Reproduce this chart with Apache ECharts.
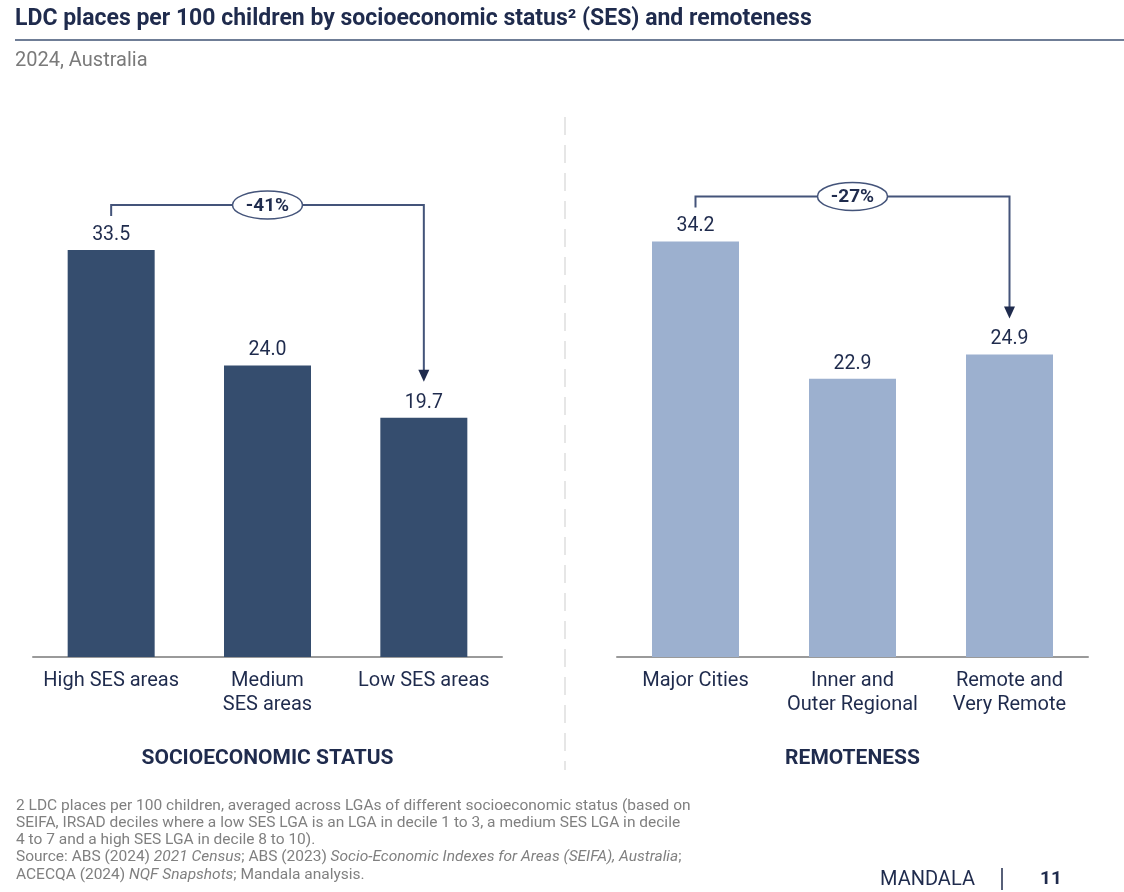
<!DOCTYPE html>
<html>
<head>
<meta charset="utf-8">
<script src="https://cdn.jsdelivr.net/npm/echarts@6/dist/echarts.min.js"></script>
<style>
  html, body { margin: 0; padding: 0; background: #ffffff; }
  #chart { width: 1124px; height: 892px; }
</style>
</head>
<body>
<div id="chart"></div>
<script>
// LDC places per 100 children, 2024
const sesCategories = ['High SES areas', 'Medium\nSES areas', 'Low SES areas'];
const sesValues = [33.5, 24.0, 19.7];
const remoteCategories = ['Major Cities', 'Inner and\nOuter Regional', 'Remote and\nVery Remote'];
const remoteValues = [34.2, 22.9, 24.9];
// change brackets: [from index, to index]
const sesChange = [0, 2];
const remoteChange = [0, 2];

const NAVY = '#1f2b4d';
const DARK_BAR = '#354d6e';
const LIGHT_BAR = '#9cb0cf';
const FONT = 'Roboto, "Noto Sans", sans-serif';

const chart = echarts.init(document.getElementById('chart'), null, { renderer: 'canvas' });

function bracketItem(values, pair) {
  const a = pair[0], b = pair[1];
  const pct = Math.round((values[b] - values[a]) / values[a] * 100);
  return [a, values[a], b, values[b], (pct > 0 ? '+' : '') + pct + '%'];
}

// bracket from one bar to another with an arrow and an oval change label
function renderBracket(params, api) {
  const p0 = api.coord([api.value(0), api.value(1)]);
  const p1 = api.coord([api.value(2), api.value(3)]);
  const label = api.value(4);
  const x0 = p0[0], y0 = p0[1] - 34;
  const x1 = p1[0], yTip = p1[1] - 36;
  const yTop = Math.min(p0[1], p1[1]) - 45;
  const mid = (x0 + x1) / 2;
  const head = 12;
  return {
    type: 'group',
    children: [
      {
        type: 'polyline',
        shape: { points: [[x0, y0], [x0, yTop], [x1, yTop], [x1, yTip - head + 1]] },
        style: { stroke: '#44547a', lineWidth: 2, fill: null }
      },
      {
        type: 'polygon',
        shape: { points: [[x1 - 5.5, yTip - head], [x1 + 5.5, yTip - head], [x1, yTip]] },
        style: { fill: NAVY }
      },
      {
        type: 'ellipse',
        shape: { cx: mid, cy: yTop, rx: 35, ry: 14 },
        style: { fill: '#ffffff', stroke: '#44547a', lineWidth: 1.5 }
      },
      {
        type: 'text',
        style: {
          x: mid, y: yTop + 1, text: label, align: 'center', verticalAlign: 'middle',
          font: 'bold 19px ' + FONT, fill: NAVY
        }
      }
    ]
  };
}

function xAxisFor(gridIndex, cats, name) {
  return {
    type: 'category', gridIndex: gridIndex, data: cats,
    axisLine: { show: true, lineStyle: { color: '#9a9a9a', width: 2 } },
    axisTick: { show: false },
    axisLabel: { color: NAVY, fontSize: 20, fontFamily: FONT, lineHeight: 24, margin: 12, interval: 0 },
    name: name, nameLocation: 'middle', nameGap: 91,
    nameTextStyle: { color: NAVY, fontSize: 21, fontWeight: 'bold', fontFamily: FONT }
  };
}

function yAxisFor(gridIndex) {
  return { type: 'value', gridIndex: gridIndex, min: 0, max: 40, show: false };
}

function barSeries(idx, values, color) {
  return {
    type: 'bar', xAxisIndex: idx, yAxisIndex: idx, data: values, barWidth: 87,
    itemStyle: { color: color },
    label: {
      show: true, position: 'top', distance: 5, color: NAVY, fontSize: 19.5, fontFamily: FONT,
      formatter: p => p.value.toFixed(1)
    },
    silent: true
  };
}

function bracketSeries(idx, item) {
  return {
    type: 'custom', xAxisIndex: idx, yAxisIndex: idx, clip: false, silent: true, z: 5,
    data: [item],
    encode: { x: [0, 2], y: [1, 3] },
    renderItem: renderBracket
  };
}

const footLines = [
  '2 LDC places per 100 children, averaged across LGAs of different socioeconomic status (based on',
  'SEIFA, IRSAD deciles where a low SES LGA is an LGA in decile 1 to 3, a medium SES LGA in decile',
  '4 to 7 and a high SES LGA in decile 8 to 10).',
  'Source: ABS (2024) {i|2021 Census}; ABS (2023) {i|Socio-Economic Indexes for Areas (SEIFA), Australia};',
  'ACECQA (2024) {i|NQF Snapshots}; Mandala analysis.'
];

chart.setOption({
  backgroundColor: '#ffffff',
  animation: false,
  grid: [
    { left: 33, width: 469, top: 171, height: 486 },
    { left: 617, width: 471, top: 171, height: 486 }
  ],
  xAxis: [
    xAxisFor(0, sesCategories, 'SOCIOECONOMIC STATUS'),
    xAxisFor(1, remoteCategories, 'REMOTENESS')
  ],
  yAxis: [yAxisFor(0), yAxisFor(1)],
  series: [
    barSeries(0, sesValues, DARK_BAR),
    barSeries(1, remoteValues, LIGHT_BAR),
    bracketSeries(0, bracketItem(sesValues, sesChange)),
    bracketSeries(1, bracketItem(remoteValues, remoteChange))
  ],
  graphic: [
    {
      type: 'text', left: 15, top: 8,
      style: {
        text: 'LDC places per 100 children by socioeconomic status² (SES) and remoteness',
        font: 'bold 23px ' + FONT, fill: NAVY
      }
    },
    {
      type: 'line', shape: { x1: 15, y1: 40, x2: 1124, y2: 40 },
      style: { stroke: '#6f7d96', lineWidth: 2 }
    },
    {
      type: 'text', left: 15, top: 51,
      style: { text: '2024, Australia', font: '20px ' + FONT, fill: '#7a7a7a' }
    },
    {
      type: 'line', shape: { x1: 565, y1: 117, x2: 565, y2: 770 },
      style: { stroke: '#e6e6e6', lineWidth: 2, lineDash: [18, 10] }
    },
    {
      type: 'text', left: 16, top: 797,
      style: {
        text: footLines.join('\n'),
        font: '15.5px ' + FONT, fill: '#808080', lineHeight: 17.3,
        rich: { i: { fontStyle: 'italic', fontSize: 15.5, fontFamily: FONT, fill: '#808080', lineHeight: 17.3 } }
      }
    },
    {
      type: 'text', left: 880, top: 870,
      style: { text: 'MANDALA', font: '20px ' + FONT, fill: NAVY }
    },
    {
      type: 'line', shape: { x1: 1002, y1: 868, x2: 1002, y2: 890 },
      style: { stroke: NAVY, lineWidth: 1.5 }
    },
    {
      type: 'text', left: 1040, top: 870,
      style: { text: '11', font: 'bold 19px ' + FONT, fill: NAVY }
    }
  ]
});
</script>
</body>
</html>
